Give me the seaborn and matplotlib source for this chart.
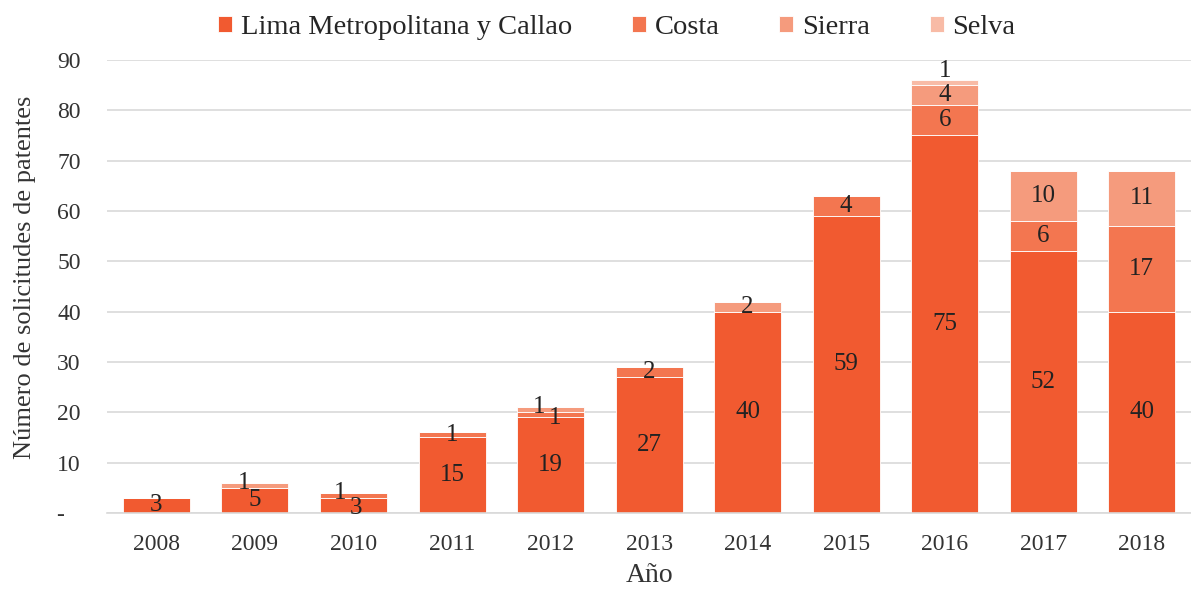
import pandas as pd
import numpy as np
import matplotlib
matplotlib.use('Agg')
import matplotlib.pyplot as plt
import matplotlib.transforms as mtransforms
import seaborn as sns

years = ['2008', '2009', '2010', '2011', '2012', '2013', '2014', '2015', '2016', '2017', '2018']
lima = [3, 5, 3, 15, 19, 27, 40, 59, 75, 52, 40]
costa = [0, 0, 1, 1, 1, 2, 0, 4, 6, 6, 17]
sierra = [0, 1, 0, 0, 1, 0, 2, 0, 4, 10, 11]
selva = [0, 0, 0, 0, 0, 0, 0, 0, 1, 0, 0]

series = ['Lima Metropolitana y Callao', 'Costa', 'Sierra', 'Selva']
colores = ['#F15A30', '#F37650', '#F59B7D', '#F8BBA6']

# desplazamiento (puntos) de etiquetas pequeñas que se solapan, como en Excel
desplaza = {
    ('2009', 'Sierra'): (-8, 2),
    ('2010', 'Costa'): (-10, 2),
    ('2010', 'Lima Metropolitana y Callao'): (2, -2),
    ('2012', 'Costa'): (3, -2),
    ('2012', 'Sierra'): (-8, 2),
    ('2016', 'Selva'): (0, 8),
}

sns.set_style('white')
plt.rcParams['font.family'] = ['Liberation Serif', 'DejaVu Serif']

fig = plt.figure(figsize=(11.91, 5.92), dpi=100)
ax = fig.add_axes([0.09, 0.1334, 0.91, 0.7656])

base = np.zeros(len(years))
for nombre, valores, col in zip(series, [lima, costa, sierra, selva], colores):
    df = pd.DataFrame({'year': years, 'n': valores})
    sns.barplot(data=df, x='year', y='n', color=col, bottom=base, width=0.68,
                saturation=1, ax=ax, label=nombre, edgecolor='white', linewidth=0.6)
    for i, v in enumerate(valores):
        if v > 0:
            dx, dy = desplaza.get((years[i], nombre), (0, 0))
            ax.annotate(str(v), (i, base[i] + v / 2), xytext=(dx, dy),
                        textcoords='offset points', ha='center', va='center',
                        fontsize=18, color='#222222')
    base = base + np.array(valores)

ax.set_ylim(0, 90)
ax.set_xlim(-0.5, 10.5)
ax.set_yticks(range(0, 100, 10))
ax.set_yticklabels(['-'] + [str(v) for v in range(10, 100, 10)])
ax.yaxis.grid(True, color='#d9d9d9', linewidth=1.2)
ax.set_axisbelow(True)
for s in ['top', 'right', 'left']:
    ax.spines[s].set_visible(False)
ax.spines['bottom'].set_color('#d9d9d9')
ax.spines['bottom'].set_linewidth(1.2)
ax.tick_params(axis='x', length=0, labelsize=17, colors='#333333', pad=15)
ax.tick_params(axis='y', length=0, labelsize=17, colors='#333333', pad=19)
guion = ax.get_yticklabels()[0]
guion.set_transform(guion.get_transform() + mtransforms.ScaledTranslation(-12 / 72, 0, fig.dpi_scale_trans))
ax.set_xlabel('Año', fontsize=20, color='#333333', labelpad=6)
ax.set_ylabel('Número de solicitudes de patentes', fontsize=19, color='#333333')
ax.yaxis.set_label_coords(-0.066, 0.52)

ax.legend(loc='lower center', bbox_to_anchor=(0.47, 1.0), ncol=4, frameon=False,
          fontsize=20.5, handlelength=0.5, handleheight=0.5, handletextpad=0.3,
          columnspacing=2.1, borderaxespad=0.3)

fig.savefig('out.png', dpi=100)
